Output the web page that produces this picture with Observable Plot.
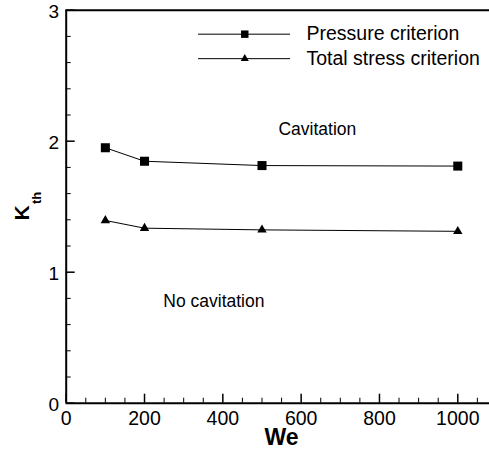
<!DOCTYPE html>
<html><head>
<meta charset="utf-8">
<script src="https://cdn.jsdelivr.net/npm/d3@7"></script>
<script src="https://cdn.jsdelivr.net/npm/@observablehq/plot@0.6"></script>
<style>body{margin:0;background:#fff} svg{display:block}</style>
</head><body><div id="chart"></div>
<script>
// Data
const we = [100, 200, 500, 1000];
const pressure = [1.95, 1.847, 1.814, 1.81];
const totalStress = [1.395, 1.336, 1.323, 1.312];
const seriesNames = ["Pressure criterion", "Total stress criterion"];
const xTickLabels = [0, 200, 400, 600, 800, 1000];
const yTickLabels = [0, 1, 2, 3];
const xMinorTicks = [50,100,150,250,300,350,450,500,550,650,700,750,850,900,950,1050];
const yMinorTicks = [0.2,0.4,0.6,0.8,1.2,1.4,1.6,1.8,2.2,2.4,2.6,2.8];

const pRows = we.map((w, i) => ({we: w, k: pressure[i]}));
const tRows = we.map((w, i) => ({we: w, k: totalStress[i]}));

const font = "'Liberation Sans', Arial, Helvetica, sans-serif";
const xMax = 1081;
const pxX = 423.3 / xMax; // px per unit
const pxY = 393 / 3;

const chart = Plot.plot({
  width: 489, height: 452,
  marginLeft: 65.7, marginRight: 0, marginTop: 9.7, marginBottom: 49.3,
  style: {fontFamily: font, fontSize: "19.5px", color: "#000", background: "#fff", overflow: "visible"},
  x: {domain: [0, xMax]},
  y: {domain: [0, 3]},
  marks: [
    Plot.axisX({ticks: xTickLabels, tickSize: 0, tickPadding: 8, fontSize: 19.5, tickFormat: d => String(d)}),
    Plot.axisY({ticks: yTickLabels, tickSize: 0, tickPadding: 7, dy: 1.5, fontSize: 19, tickFormat: d => String(d)}),
    // inward ticks
    Plot.ruleX(xTickLabels, {x: d => d, y1: 0, y2: 9 / pxY, stroke: "#000", strokeWidth: 1.5}),
    Plot.ruleX(xMinorTicks, {x: d => d, y1: 0, y2: 5 / pxY, stroke: "#000", strokeWidth: 1}),
    Plot.ruleY(yTickLabels, {y: d => d, x1: 0, x2: 9 / pxX, stroke: "#000", strokeWidth: 1.5}),
    Plot.ruleY(yMinorTicks, {y: d => d, x1: 0, x2: 5 / pxX, stroke: "#000", strokeWidth: 1}),
    // frame
    Plot.ruleX([0], {stroke: "#000", strokeWidth: 2}),
    Plot.ruleY([0], {stroke: "#000", strokeWidth: 2}),
    Plot.ruleY([3], {stroke: "#000", strokeWidth: 2}),
    // series
    Plot.line(pRows, {x: "we", y: "k", stroke: "#000", strokeWidth: 1}),
    Plot.dot(pRows, {x: "we", y: "k", symbol: "square", r: 5.1, fill: "#000", stroke: "none"}),
    Plot.line(tRows, {x: "we", y: "k", stroke: "#000", strokeWidth: 1}),
    Plot.dot(tRows, {x: "we", y: "k", symbol: "triangle", r: 3.5, fill: "#000", stroke: "none"}),
    // legend
    Plot.ruleY([2.817], {x1: 338, x2: 573, stroke: "#000", strokeWidth: 1}),
    Plot.dot([{x: 456, y: 2.817}], {x: "x", y: "y", symbol: "square", r: 4.2, fill: "#000", stroke: "none"}),
    Plot.text([seriesNames[0]], {x: 613.6, y: 2.817, text: d => d, textAnchor: "start", fontSize: 19.5, fill: "#000"}),
    Plot.ruleY([2.63], {x1: 338, x2: 573, stroke: "#000", strokeWidth: 1}),
    Plot.dot([{x: 456, y: 2.63}], {x: "x", y: "y", symbol: "triangle", r: 3, fill: "#000", stroke: "none"}),
    Plot.text([seriesNames[1]], {x: 613.6, y: 2.63, text: d => d, textAnchor: "start", fontSize: 19.5, fill: "#000"}),
    // region annotations
    Plot.text(["Cavitation"], {x: 542, y: 2.09, text: d => d, textAnchor: "start", fontSize: 17.5, fill: "#000"}),
    Plot.text(["No cavitation"], {x: 248, y: 0.78, text: d => d, textAnchor: "start", fontSize: 17.5, fill: "#000"}),
    // axis titles
    Plot.text(["We"], {frameAnchor: "bottom", x: 550, dy: 42, text: d => d, fontSize: 23, fontWeight: "bold", fill: "#000"}),
    Plot.text(["K"], {frameAnchor: "left", y: 1.395, dx: -43.7, text: d => d, rotate: -90, fontSize: 21, fontWeight: "bold", fill: "#000"}),
    Plot.text(["th"], {frameAnchor: "left", y: 1.52, dx: -29.5, text: d => d, rotate: -90, fontSize: 13, fontWeight: "bold", fill: "#000"})
  ]
});
document.getElementById("chart").appendChild(chart);
</script>
</body></html>
